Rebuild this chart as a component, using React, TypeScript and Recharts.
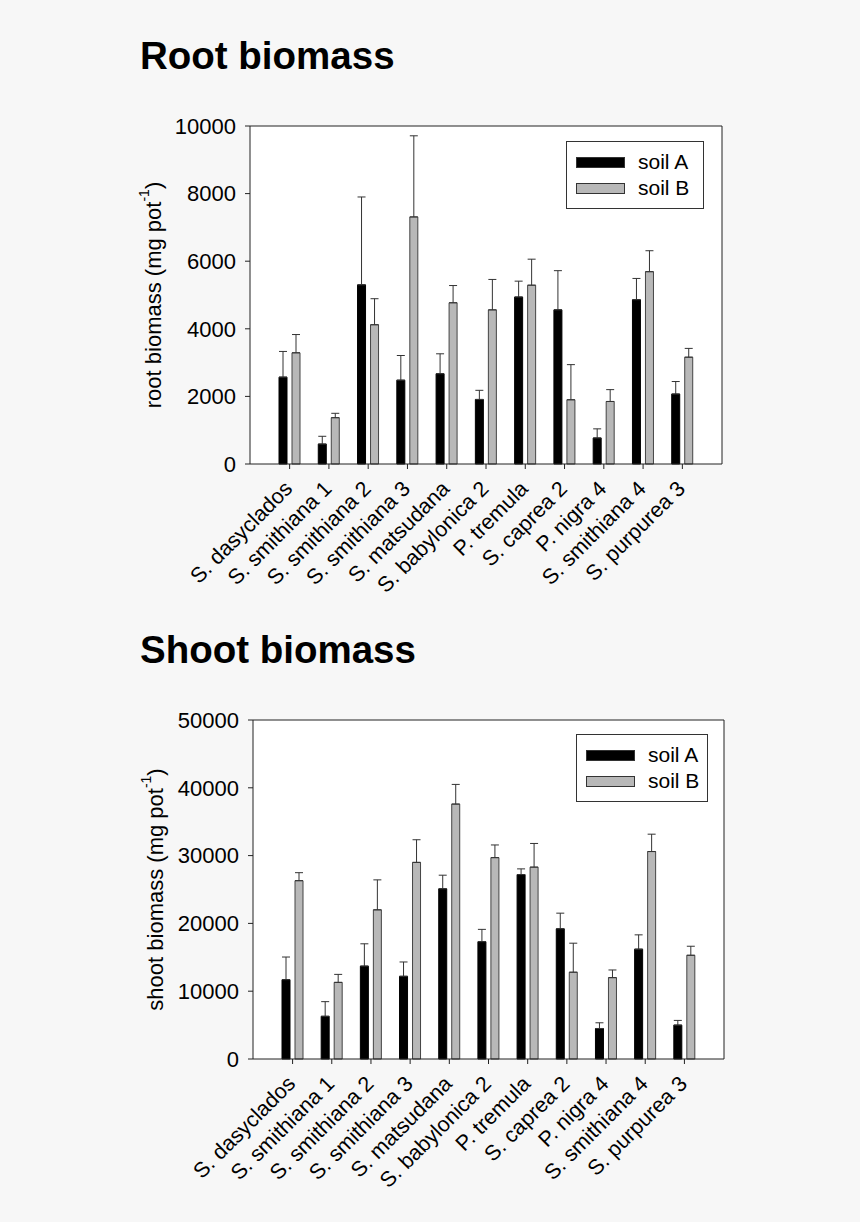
import {
  BarChart,
  Bar,
  XAxis,
  YAxis,
  ErrorBar,
  CartesianGrid,
  Legend,
} from "recharts";

const species = [
  "S. dasyclados",
  "S. smithiana 1",
  "S. smithiana 2",
  "S. smithiana 3",
  "S. matsudana",
  "S. babylonica 2",
  "P. tremula",
  "S. caprea 2",
  "P. nigra 4",
  "S. smithiana 4",
  "S. purpurea 3",
];

const rootA = [2570, 590, 5300, 2480, 2670, 1910, 4940, 4560, 770, 4860, 2070];
const rootAErr = [760, 230, 2600, 730, 590, 270, 470, 1160, 270, 630, 370];
const rootB = [3290, 1370, 4120, 7310, 4770, 4560, 5290, 1900, 1850, 5690, 3160];
const rootBErr = [540, 130, 770, 2400, 510, 900, 770, 1040, 350, 620, 260];

const shootA = [11700, 6300, 13700, 12200, 25100, 17300, 27200, 19200, 4500, 16200, 5000];
const shootAErr = [3340, 2160, 3290, 2110, 2010, 1820, 840, 2310, 840, 2110, 690];
const shootB = [26300, 11300, 22000, 29000, 37600, 29700, 28300, 12800, 12000, 30600, 15300];
const shootBErr = [1180, 1180, 4420, 3340, 2900, 1870, 3490, 4280, 1130, 2560, 1330];

const rootTicks = [0, 2000, 4000, 6000, 8000, 10000];
const shootTicks = [0, 10000, 20000, 30000, 40000, 50000];

const FONT = "'Liberation Sans', Arial, sans-serif";
const AXIS = "#222";

function makeRows(a: number[], aErr: number[], b: number[], bErr: number[]) {
  return species.map((name, i) => ({
    name,
    a: a[i],
    b: b[i],
    aErr: [0, aErr[i]],
    bErr: [0, bErr[i]],
  }));
}

function SlantTick(props: any) {
  const { x, y, payload } = props;
  const ax = x + 4;
  const ay = y + 21;
  return (
    <text
      x={ax}
      y={ay}
      transform={`rotate(-45, ${ax}, ${ay})`}
      textAnchor="end"
      fontSize={21.5}
      fontFamily={FONT}
      fill="#000"
    >
      {payload.value}
    </text>
  );
}

function AxisTitle(props: any) {
  const { viewBox, word, cx } = props;
  const cy = viewBox.y + viewBox.height / 2;
  return (
    <text
      x={cx}
      y={cy}
      transform={`rotate(-90, ${cx}, ${cy})`}
      textAnchor="middle"
      dominantBaseline="middle"
      fontSize={22}
      fontFamily={FONT}
      fill="#000"
    >
      {word} biomass (mg pot
      <tspan fontSize={14} dy={-10}>
        -1
      </tspan>
      <tspan dy={10}>)</tspan>
    </text>
  );
}

function LegendBox({ width }: { width: number }) {
  const row = (fill: string, label: string) => (
    <div style={{ display: "flex", alignItems: "center", height: 26 }}>
      <div
        style={{
          width: 47,
          height: 9,
          background: fill,
          border: "1px solid #333",
          marginLeft: 9,
          marginRight: 13,
        }}
      />
      <span style={{ fontSize: 21, fontFamily: FONT, color: "#000" }}>{label}</span>
    </div>
  );
  return (
    <div
      style={{
        width,
        height: 68,
        border: "1px solid #333",
        background: "#fff",
        boxSizing: "border-box",
        paddingTop: 7,
      }}
    >
      {row("#000", "soil A")}
      {row("#b8b8b8", "soil B")}
    </div>
  );
}

function Panel(props: {
  top: number;
  title: string;
  word: string;
  rows: any[];
  max: number;
  ticks: number[];
  left: number;
  right: number;
  bottom: number;
  labelX: number;
  legend: { left: number; top: number; width: number };
}) {
  const { top, title, word, rows, max, ticks, left, right, bottom, labelX, legend } = props;
  return (
    <div style={{ position: "absolute", left: 0, top, width: 860, height: 600 }}>
      <div
        style={{
          position: "absolute",
          left: 140,
          top: 37,
          fontFamily: FONT,
          fontWeight: "bold",
          fontSize: 38.5,
          lineHeight: "38px",
          color: "#000",
        }}
      >
        {title}
      </div>
      <BarChart
        width={860}
        height={600}
        data={rows}
        margin={{ top: 125, right: 860 - right - 1, left: 0, bottom }}
        barSize={8}
        barGap={5}
        style={{ position: "absolute", left: 0, top: 0 }}
      >
        <CartesianGrid horizontal={false} vertical={false} fill="#fff" />
        <XAxis
          dataKey="name"
          height={30}
          interval={0}
          padding={{ left: 20, right: 20 }}
          tickSize={5}
          tickMargin={0}
          tick={<SlantTick />}
          stroke={AXIS}
          tickLine={{ stroke: AXIS }}
        />
        <XAxis
          xAxisId="top"
          orientation="top"
          dataKey="name"
          height={1}
          tick={false}
          tickLine={false}
          stroke={AXIS}
        />
        <YAxis
          width={left}
          domain={[0, max]}
          ticks={ticks}
          interval={0}
          tickSize={5}
          tickMargin={9}
          stroke={AXIS}
          tick={{ fontSize: 22, fontFamily: FONT, fill: "#000" }}
          label={<AxisTitle word={word} cx={labelX} />}
        />
        <YAxis
          yAxisId="right"
          orientation="right"
          width={1}
          domain={[0, max]}
          tick={false}
          tickLine={false}
          stroke={AXIS}
        />
        <Legend
          layout="horizontal"
          verticalAlign="middle"
          align="center"
          wrapperStyle={{ left: legend.left, top: legend.top, width: legend.width }}
          content={() => <LegendBox width={legend.width} />}
        />
        <Bar dataKey="a" name="soil A" fill="#000" stroke="#000" isAnimationActive={false}>
          <ErrorBar dataKey="aErr" width={4} stroke="#333" strokeWidth={1} direction="y" />
        </Bar>
        <Bar dataKey="b" name="soil B" fill="#b8b8b8" stroke="#444" strokeWidth={1} isAnimationActive={false}>
          <ErrorBar dataKey="bErr" width={4} stroke="#333" strokeWidth={1} direction="y" />
        </Bar>
      </BarChart>
    </div>
  );
}

export default function App() {
  const rootRows = makeRows(rootA, rootAErr, rootB, rootBErr);
  const shootRows = makeRows(shootA, shootAErr, shootB, shootBErr);
  return (
    <div
      style={{
        position: "absolute",
        left: 0,
        top: 0,
        width: 860,
        height: 1222,
        background: "#f7f7f7",
        overflow: "hidden",
      }}
    >
      <Panel
        top={0}
        title="Root biomass"
        word="root"
        rows={rootRows}
        max={10000}
        ticks={rootTicks}
        left={250}
        right={722}
        bottom={106}
        labelX={155}
        legend={{ left: 566, top: 141, width: 138 }}
      />
      <Panel
        top={594}
        title="Shoot biomass"
        word="shoot"
        rows={shootRows}
        max={50000}
        ticks={shootTicks}
        left={253}
        right={724}
        bottom={105}
        labelX={157}
        legend={{ left: 576, top: 140, width: 132 }}
      />
    </div>
  );
}
